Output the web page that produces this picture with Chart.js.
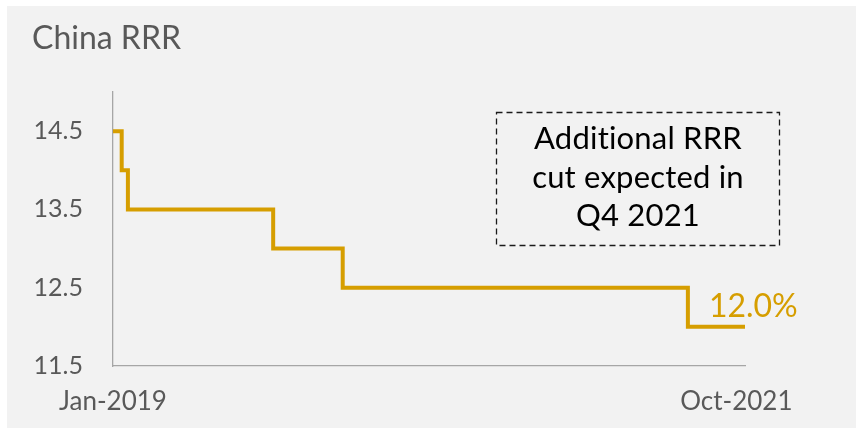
<!DOCTYPE html>
<html>
<head>
<meta charset="utf-8">
<script src="https://cdn.jsdelivr.net/npm/chart.js@4/dist/chart.umd.min.js"></script>
<style>
  html, body { margin: 0; padding: 0; background: #ffffff; }
  #wrap { width: 856px; height: 429px; position: relative; }
</style>
</head>
<body>
<div id="wrap"><canvas id="c" width="856" height="429"></canvas></div>
<script>
// ---- data ----
const changeDates = ['2019-01-01', '2019-01-15', '2019-01-25', '2019-09-16', '2020-01-06', '2021-07-15', '2021-10-15'];
const rrrValues   = [14.5, 14.0, 13.5, 13.0, 12.5, 12.0, 12.0];
const xTickDates  = ['2019-01-01', '2021-10-01'];
const xTickLabels = ['Jan-2019', 'Oct-2021'];
const yTickValues = [11.5, 12.5, 13.5, 14.5];
const chartTitle  = 'China RRR';
const noteLines   = ['Additional RRR', 'cut expected in', 'Q4 2021'];
const lastLabel   = '12.0%';

const FONT = 'Lato, "Open Sans", sans-serif';
const startMs = Date.UTC(2019, 0, 1);
function dayOf(s) {
  const p = s.split('-').map(Number);
  return (Date.UTC(p[0], p[1] - 1, p[2]) - startMs) / 86400000;
}
const points = changeDates.map((d, i) => ({ x: dayOf(d), y: rrrValues[i] }));
const xTickDays = xTickDates.map(dayOf);

const decor = {
  id: 'decor',
  beforeDraw(chart) {
    const ctx = chart.ctx;
    ctx.save();
    ctx.fillStyle = '#ffffff';
    ctx.fillRect(0, 0, chart.width, chart.height);
    ctx.fillStyle = '#f2f2f2';
    ctx.fillRect(7, 6, chart.width - 7, 422);
    ctx.restore();
  },
  afterDraw(chart) {
    const ctx = chart.ctx;
    ctx.save();
    // title
    ctx.fillStyle = '#595959';
    ctx.font = '32px ' + FONT;
    ctx.textAlign = 'left';
    ctx.textBaseline = 'alphabetic';
    ctx.fillText(chartTitle, 32, 49);
    // annotation box
    ctx.setLineDash([6, 4]);
    ctx.strokeStyle = '#1a1a1a';
    ctx.lineWidth = 1.3;
    ctx.strokeRect(496.5, 112.5, 283, 133);
    ctx.setLineDash([]);
    ctx.fillStyle = '#000000';
    ctx.font = '31px ' + FONT;
    if ('letterSpacing' in ctx) ctx.letterSpacing = '0.2px';
    ctx.textAlign = 'center';
    ctx.textBaseline = 'middle';
    noteLines.forEach((t, i) => ctx.fillText(t, 638, 139 + i * 38.5));
    if ('letterSpacing' in ctx) ctx.letterSpacing = '0px';
    // end label
    const xs = chart.scales.x, ys = chart.scales.y;
    const lastIdx = points.length - 2;
    const px = xs.getPixelForValue(points[lastIdx].x);
    const py = ys.getPixelForValue(points[lastIdx].y);
    ctx.fillStyle = '#d69e00';
    ctx.font = '32px ' + FONT;
    ctx.textAlign = 'left';
    ctx.textBaseline = 'middle';
    ctx.fillText(lastLabel, px + 21, py - 20);
    ctx.restore();
  }
};

new Chart(document.getElementById('c'), {
  type: 'line',
  data: {
    datasets: [{
      data: points,
      stepped: 'before',
      borderColor: '#d69e00',
      borderWidth: 4,
      pointRadius: 0,
      fill: false,
      borderCapStyle: 'butt',
      borderJoinStyle: 'miter'
    }]
  },
  options: {
    responsive: false,
    animation: false,
    layout: { padding: { left: 0, top: 92, right: 111, bottom: 0 } },
    plugins: { legend: { display: false }, tooltip: { enabled: false } },
    scales: {
      x: {
        type: 'linear',
        min: 0,
        max: dayOf(changeDates[changeDates.length - 1]),
        afterBuildTicks(scale) { scale.ticks = xTickDays.map(v => ({ value: v })); },
        afterFit(scale) { scale.height = 63; },
        grid: { display: false, drawTicks: false },
        border: { display: true, color: '#a6a6a6', width: 1.3 },
        ticks: {
          autoSkip: false, maxRotation: 0, padding: 20,
          color: '#595959', font: { family: FONT, size: 26 },
          callback: (v) => { const i = xTickDays.indexOf(v); return i >= 0 ? xTickLabels[i] : ''; }
        }
      },
      y: {
        min: 11.5,
        max: 15.0,
        afterBuildTicks(scale) { scale.ticks = yTickValues.map(v => ({ value: v })); },
        afterFit(scale) { scale.width = 113; },
        grid: { display: false, drawTicks: false },
        border: { display: true, color: '#a6a6a6', width: 1.3 },
        ticks: {
          padding: 30,
          color: '#595959', font: { family: FONT, size: 25 },
          callback: (v) => v.toFixed(1)
        }
      }
    }
  },
  plugins: [decor]
});
</script>
</body>
</html>
